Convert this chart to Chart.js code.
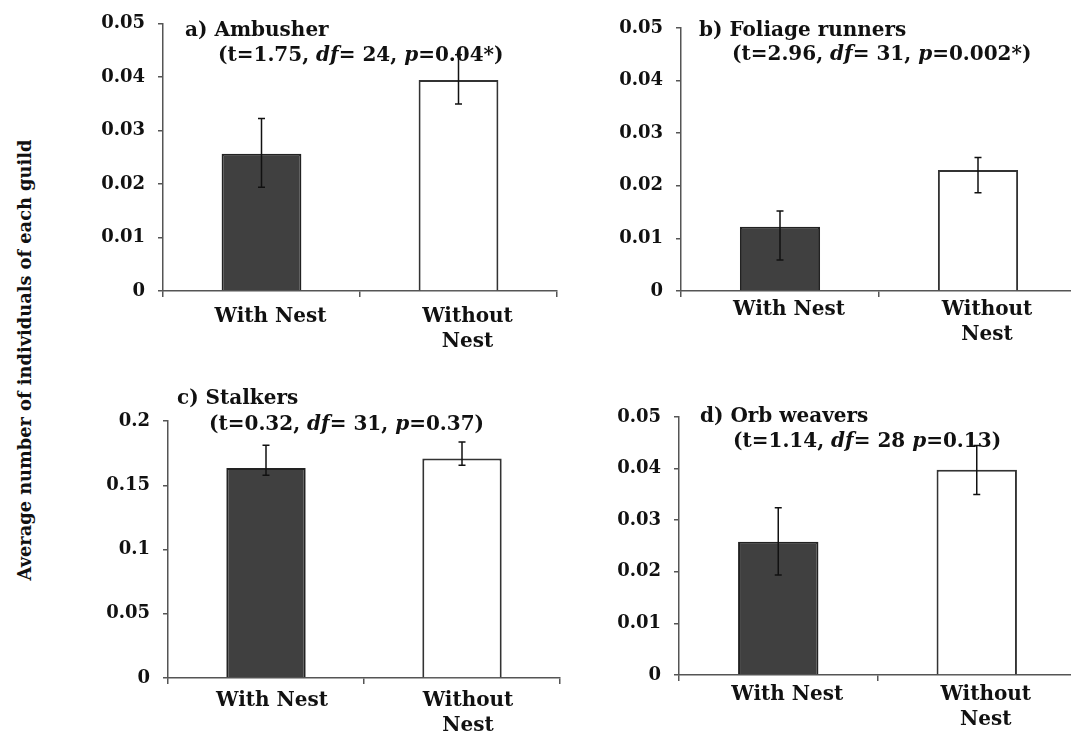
<!DOCTYPE html>
<html>
<head>
<meta charset="utf-8">
<script src="https://cdn.jsdelivr.net/npm/chart.js@4/dist/chart.umd.min.js"></script>
<style>
  html, body { margin: 0; padding: 0; background: #fff; overflow: hidden; }
  body { width: 1071px; height: 734px; position: relative; }
  .panel { position: absolute; width: 480px; }
  #ytitle {
    position: absolute; left: 24px; top: 360px;
    transform: translate(-50%, -50%) rotate(-90deg);
    white-space: nowrap; font: bold 17.8px "DejaVu Serif"; color: #111;
  }
</style>
</head>
<body>
<div id="ytitle">Average number of individuals of each guild</div>
<div class="panel" id="pa" style="left:90px;top:0;height:365px"><canvas id="ca"></canvas></div>
<div class="panel" id="pb" style="left:600px;top:0;height:365px"><canvas id="cb"></canvas></div>
<div class="panel" id="pc" style="left:90px;top:370px;height:364px"><canvas id="cc"></canvas></div>
<div class="panel" id="pd" style="left:600px;top:370px;height:364px"><canvas id="cd"></canvas></div>
<script>
// data
const guilds = ['a) Ambusher', 'b) Foliage runners', 'c) Stalkers', 'd) Orb weavers']
const categories = ['With Nest', ['Without', 'Nest']]
const withNest = [0.0257, 0.0122, 0.1635, 0.0258]
const withoutNest = [0.0395, 0.0230, 0.1708, 0.0398]
const withNestLow = [0.0194, 0.0059, 0.1578, 0.0194]
const withNestHigh = [0.0323, 0.0152, 0.1811, 0.0324]
const withoutNestLow = [0.0350, 0.0187, 0.1656, 0.0350]
const withoutNestHigh = [0.0442, 0.0254, 0.1837, 0.0445]
const tStat = ['1.75', '2.96', '0.32', '1.14']
const dfStat = ['24', '31', '31', '28']
const pStat = ['0.04*', '0.002*', '0.37', '0.13']
const dfSep = [', ', ', ', ', ', ' ']
const yMax = [0.05, 0.05, 0.2, 0.05]
const yStep = [0.01, 0.01, 0.05, 0.01]
const yTicksSmall = ['0', '0.01', '0.02', '0.03', '0.04', '0.05']
const yTicksStalkers = ['0', '0.05', '0.1', '0.15', '0.2']
const yTickLabels = [yTicksSmall, yTicksSmall, yTicksStalkers, yTicksSmall]

// layout of each panel (pixels)
const layout = [
  { canvas: 'ca', yW: 73, xH: 74, top: 22, right: 13, lblPad: 7, lblOff: 9, title: [22, 12.5], stat: [55, 37] },
  { canvas: 'cb', yW: 81, xH: 74, top: 28, right: 3, lblPad: 0.5, lblOff: 9, title: [18, 7.5], stat: [51, 32] },
  { canvas: 'cc', yW: 78, xH: 56, top: 51, right: 10, lblPad: 4.5, lblOff: 6, title: [9, -17], stat: [41, 9] },
  { canvas: 'cd', yW: 79, xH: 59, top: 47, right: 4, lblPad: 1, lblOff: 9, title: [21, 5], stat: [54, 30] },
]

const FONT = '"DejaVu Serif"'
const AXIS = '#555'

const panelText = {
  id: 'panelText',
  afterDatasetsDraw(chart, args, opts) {
    const ctx = chart.ctx
    const area = chart.chartArea
    ctx.save()
    ctx.fillStyle = '#111'
    ctx.textBaseline = 'alphabetic'
    ctx.font = 'bold 20px ' + FONT
    ctx.fillText(opts.title, area.left + opts.titlePos[0], area.top + opts.titlePos[1])
    let x = area.left + opts.statPos[0]
    opts.stat.forEach(([text, italic]) => {
      ctx.font = (italic ? 'italic ' : '') + 'bold 20px ' + FONT
      ctx.fillText(text, x, area.top + opts.statPos[1])
      x += ctx.measureText(text).width
    })
    ctx.restore()
  }
}

const errorBars = {
  id: 'errorBars',
  afterDatasetsDraw(chart, args, opts) {
    const ctx = chart.ctx
    const y = chart.scales.y
    const meta = chart.getDatasetMeta(0)
    ctx.save()
    ctx.strokeStyle = '#111'
    ctx.lineWidth = 1.5
    meta.data.forEach((bar, i) => {
      const top = y.getPixelForValue(opts.high[i])
      const bottom = y.getPixelForValue(opts.low[i])
      ctx.beginPath()
      ctx.moveTo(bar.x, top)
      ctx.lineTo(bar.x, bottom)
      ctx.moveTo(bar.x - 3.5, top)
      ctx.lineTo(bar.x + 3.5, top)
      ctx.moveTo(bar.x - 3.5, bottom)
      ctx.lineTo(bar.x + 3.5, bottom)
      ctx.stroke()
    })
    ctx.restore()
  }
}

guilds.forEach((guild, i) => {
  const L = layout[i]
  const stat = [
    ['(t=' + tStat[i] + ', ', false],
    ['df', true],
    ['= ' + dfStat[i] + dfSep[i], false],
    ['p', true],
    ['=' + pStat[i] + ')', false],
  ]
  const config = {
    type: 'bar',
    data: {
      labels: categories,
      datasets: [{
        data: [withNest[i], withoutNest[i]],
        backgroundColor: ['#404040', '#ffffff'],
        borderColor: ['#222', '#333'],
        borderWidth: 2,
        categoryPercentage: 1,
        barPercentage: 0.405,
      }],
    },
    options: {
      responsive: true,
      maintainAspectRatio: false,
      animation: false,
      layout: { padding: { top: L.top, right: L.right, left: 0, bottom: 0 } },
      plugins: {
        legend: { display: false },
        tooltip: { enabled: false },
        panelText: { title: guild, titlePos: L.title, stat: stat, statPos: L.stat },
        errorBars: { low: [withNestLow[i], withoutNestLow[i]], high: [withNestHigh[i], withoutNestHigh[i]] },
      },
      scales: {
        x: {
          grid: { drawOnChartArea: false, tickLength: 6, color: AXIS, lineWidth: 1.5 },
          border: { color: AXIS, width: 1.5 },
          ticks: {
            color: '#111', padding: L.lblPad, labelOffset: L.lblOff, maxRotation: 0,
            font: { family: FONT, weight: 'bold', size: 20, lineHeight: 25 / 20 },
          },
          afterFit: s => { s.height = L.xH },
        },
        y: {
          min: 0,
          max: yMax[i],
          grid: { drawOnChartArea: false, tickLength: 5, color: AXIS, lineWidth: 1.5 },
          border: { color: AXIS, width: 1.5 },
          ticks: {
            stepSize: yStep[i], color: '#111', padding: 13,
            font: { family: FONT, weight: 'bold', size: 18 },
            callback: (v, idx) => yTickLabels[i][idx],
          },
          afterFit: s => { s.width = L.yW },
        },
      },
    },
    plugins: [panelText, errorBars],
  }
  new Chart(document.getElementById(L.canvas), config)
})
</script>
</body>
</html>
